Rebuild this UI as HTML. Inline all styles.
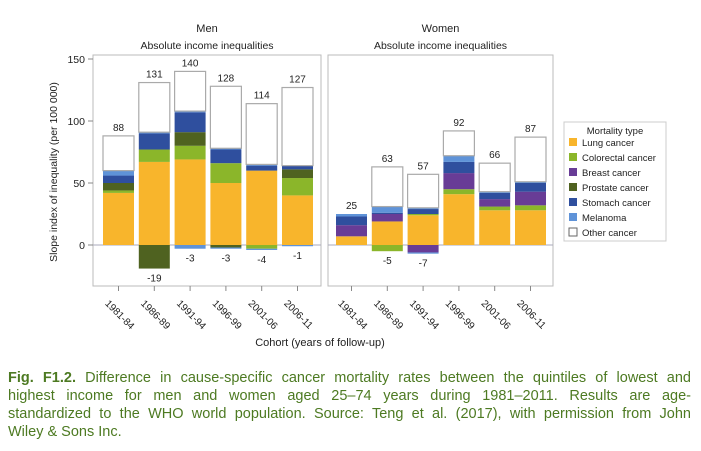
<!DOCTYPE html>
<html><head><meta charset="utf-8"><style>
body{margin:0;background:#fff;width:701px;height:451px;overflow:hidden;font-family:"Liberation Sans",Arial,sans-serif}
#cap{position:absolute;left:8px;top:369px;width:683px;font-size:14.5px;line-height:18px;color:#4d7a22}
#cap div{white-space:nowrap;text-align:justify;text-align-last:justify}
#cap div.last{text-align-last:left}
</style></head><body>
<svg id="chart" width="701" height="365" style="position:absolute;left:0;top:0" font-family="Liberation Sans, Arial, sans-serif"></svg>
<div id="cap">
<div><b>Fig. F1.2.</b> Difference in cause-specific cancer mortality rates between the quintiles of lowest and</div>
<div>highest income for men and women aged 25–74 years during 1981–2011. Results are age-</div>
<div>standardized to the WHO world population. Source: Teng et al. (2017), with permission from John</div>
<div class="last">Wiley &amp; Sons Inc.</div>
</div>
<script>
const cohorts=["1981-84","1986-89","1991-94","1996-99","2001-06","2006-11"];
const types=["Lung cancer","Colorectal cancer","Breast cancer","Prostate cancer","Stomach cancer","Melanoma","Other cancer"];
const colors=["#f8b52c","#8bb62a","#683c96","#4f6220","#2f4f9e","#5f93d8","#ffffff"];
// positive parts (lung, colorectal, breast, prostate, stomach, melanoma); other = total - sum
const menPos=[[42,2,0,6,6,4],[67,10,0,0,13,1],[69,11,0,11,16,1],[50,16,0,0,11,1],[60,0,0,0,4,1],[40,14,0,7,3,0]];
const menNeg=[[0,0,0,0,0,0],[0,0,0,19,0,0],[0,0,0,0,0,3],[0,0,0,2,0,1],[0,3,0,0,0,1],[0,0,0,0,0,1]];
const menTotal=[88,131,140,128,114,127];
const menNetNeg=[null,-19,-3,-3,-4,-1];
const womenPos=[[7,0,9,0,7,2],[19,0,6,0,1,5],[24,1,0,0,4,1],[41,4,13,0,9,5],[28,3,6,0,5,1],[28,4,11,0,7,1]];
const womenNeg=[[0,0,0,0,0,0],[0,5,0,0,0,0],[0,0,6,0,0,1],[0,0,0,0,0,0],[0,0,0,0,0,0],[0,0,0,0,0,0]];
const womenTotal=[25,63,57,92,66,87];
const womenNetNeg=[null,-5,-7,null,null,null];
const yTicks=[0,50,100,150];

const svg=document.getElementById('chart');
const NS="http://www.w3.org/2000/svg";
function mk(t,a,p){const e=document.createElementNS(NS,t);for(const k in a)e.setAttribute(k,a[k]);(p||svg).appendChild(e);return e;}
const y0=245, k=1.24;
function Y(v){return y0-v*k;}
function txt(x,y,s,size,anchor,extra){const e=mk('text',Object.assign({x:x,y:y,'font-size':size,'text-anchor':anchor||'middle',fill:'#222'},extra||{}));e.textContent=s;return e;}

const panels=[{name:'men',title:'Men',x0:93,x1:321,first:118.5,pos:menPos,neg:menNeg,tot:menTotal,nn:menNetNeg},
{name:'women',title:'Women',x0:328,x1:553,first:351.5,pos:womenPos,neg:womenNeg,tot:womenTotal,nn:womenNetNeg}];
const step=35.8, bw=31;
panels.forEach(p=>{
  const cx=(p.x0+p.x1)/2;
  let t=txt(cx,32,p.title,11);
  
  
  t=txt(cx,49,'Absolute income inequalities',10.5);
  
  
  const fr=mk('rect',{x:p.x0,y:55,width:p.x1-p.x0,height:231,fill:'none',stroke:'#bbb','stroke-width':1});
  
  
  const zl=mk('line',{x1:p.x0,x2:p.x1,y1:Y(0),y2:Y(0),stroke:'#aab','stroke-width':1});
  
  
  cohorts.forEach((c,i)=>{
    const x=p.first+i*step;
    const g=mk('g',{});
    
    
    let cum=0;
    p.pos[i].forEach((v,j)=>{ if(v>0){mk('rect',{x:x-bw/2,y:Y(cum+v),width:bw,height:v*k,fill:colors[j]},g);} cum+=v;});
    const other=p.tot[i]-cum;
    mk('rect',{x:x-bw/2,y:Y(p.tot[i]),width:bw,height:other*k,fill:'#fff',stroke:'#aaa','stroke-width':1.2},g);
    let nc=0;
    p.neg[i].forEach((v,j)=>{ if(v>0){mk('rect',{x:x-bw/2,y:Y(-nc),width:bw,height:v*k,fill:colors[j]},g);} nc+=v;});
    let lb=txt(x,Y(p.tot[i])-5,String(p.tot[i]),10);
    
    
    if(p.nn[i]!==null){
      lb=txt(x,Y(-nc)+13,String(p.nn[i]),10);
      
      
    }
    mk('line',{x1:x,x2:x,y1:286,y2:291,stroke:'#888'});
    lb=txt(x-14,304,c,10,'start',{transform:`rotate(45 ${x-14} 304)`});
    
    
  });
});
yTicks.forEach(v=>{
  mk('line',{x1:88,x2:93,y1:Y(v),y2:Y(v),stroke:'#888'});
  const t=txt(85,Y(v)+4,String(v),10.5,'end');
  
  
});
let yt=txt(0,0,'Slope index of inequality (per 100 000)',10.5,'middle',{transform:'translate(57,172) rotate(-90)'});


let xt=txt(320,346,'Cohort (years of follow-up)',11);


const lg=mk('g',{});


mk('rect',{x:564,y:122,width:102,height:119,fill:'#fff',stroke:'#ccc'},lg);
let lt=txt(615,134,'Mortality type',9.5);


types.forEach((s,i)=>{
  const yy=143+i*15;
  mk('rect',{x:569,y:yy-5,width:8,height:8,fill:colors[i],stroke:i==6?'#666':'none'},lg);
  const e=txt(582,yy+3,s,9.5,'start');
  
  
});
</script>
</body></html>
